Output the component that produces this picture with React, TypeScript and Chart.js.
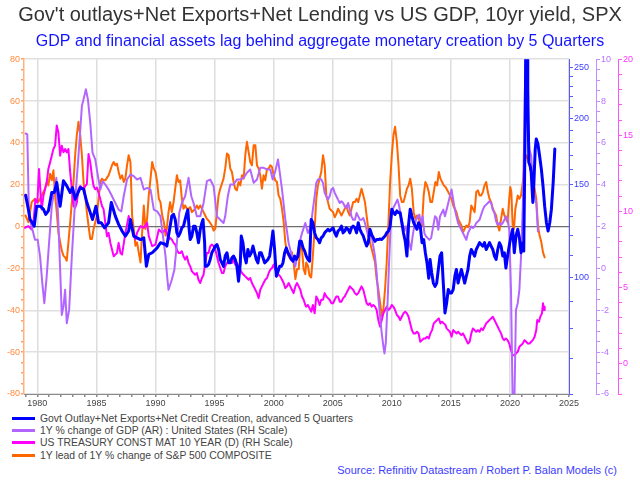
import React, { useEffect, useRef } from "react";
import { Chart, registerables } from "chart.js";

Chart.register(...registerables);

const FONT = '"Liberation Sans", Arial, Helvetica, sans-serif';

const chartTitle = "Gov't outlays+Net Exports+Net Lending vs US GDP, 10yr yield, SPX";
const chartSubtitle = "GDP and financial assets lag behind aggregate monetary creation by 5 Quarters";
const sourceNote = "Source: Refinitiv Datastream / Robert P. Balan Models (c)";

const seriesLabels = [
    "Govt Outlay+Net Exports+Net Credit Creation, advanced 5 Quarters",
    "1Y % change of GDP (AR) : United States (RH Scale)",
    "US TREASURY CONST MAT 10 YEAR (D) (RH Scale)",
    "1Y lead of 1Y % change of S&P 500 COMPOSITE",
];
const seriesColors = ["#0000ff", "#b266ff", "#ff00ff", "#ff6600"];
const seriesWidths = [3, 2, 2, 2];

// [decimal year, value]
const govtSeries: [number, number][] = [
    [1979.01, 142.9], [1979.24, 134.5], [1979.38, 128.6], [1979.57, 126.8], [1979.74, 124.9], [1979.94, 136.3],
    [1980.23, 136.3], [1980.51, 134.5], [1980.71, 131.5], [1980.93, 133.5], [1981.22, 144.7], [1981.44, 144.7],
    [1981.64, 151.1], [1981.93, 136.3], [1982.21, 152.3], [1982.49, 148.9], [1982.78, 144.7], [1982.97, 147.8],
    [1983.2, 140.5], [1983.63, 147.8], [1983.91, 146.8], [1984.19, 138.5], [1984.48, 132.5], [1984.67, 128.6],
    [1984.96, 136.3], [1985.18, 126.8], [1985.41, 126.8], [1985.69, 124.0], [1986.03, 126.8], [1986.26, 138.5],
    [1986.6, 130.5], [1986.88, 125.9], [1987.17, 122.3], [1987.45, 119.6], [1987.73, 122.3], [1987.88, 128.6],
    [1988.16, 119.6], [1988.44, 118.7], [1988.73, 117.8], [1989.01, 118.7], [1989.23, 104.8], [1989.43, 110.4],
    [1989.72, 111.2], [1990.14, 113.6], [1990.42, 116.2], [1990.85, 115.3], [1990.96, 114.5], [1991.1, 119.6],
    [1991.24, 124.9], [1991.38, 130.5], [1991.53, 131.5], [1991.67, 128.6], [1991.81, 121.3], [1991.95, 119.6],
    [1992.09, 121.3], [1992.23, 124.0], [1992.37, 124.9], [1992.51, 128.6], [1992.66, 132.5], [1992.74, 134.1],
    [1992.85, 123.2], [1992.94, 117.8], [1993.08, 119.6], [1993.22, 124.9], [1993.36, 124.9], [1993.5, 121.3],
    [1993.64, 116.2], [1993.79, 123.2], [1993.93, 126.8], [1994.02, 128.6], [1994.16, 116.2], [1994.21, 104.8],
    [1994.35, 104.8], [1994.49, 105.6], [1994.63, 108.0], [1994.77, 111.2], [1994.92, 112.8], [1995.06, 114.5],
    [1995.2, 115.3], [1995.34, 112.8], [1995.48, 108.0], [1995.62, 106.4], [1995.76, 104.8], [1995.9, 109.6],
    [1996.05, 111.2], [1996.19, 106.4], [1996.33, 106.4], [1996.47, 108.8], [1996.61, 109.6], [1996.75, 108.0],
    [1996.89, 104.8], [1997.03, 98.2], [1997.18, 106.4], [1997.26, 119.6], [1997.4, 116.2], [1997.54, 109.6],
    [1997.68, 106.4], [1997.82, 112.8], [1997.96, 109.6], [1998.11, 111.2], [1998.25, 114.5], [1998.39, 111.2],
    [1998.53, 108.0], [1998.67, 106.4], [1998.81, 111.2], [1998.95, 111.2], [1999.1, 108.8], [1999.24, 106.4],
    [1999.38, 107.2], [1999.52, 108.0], [1999.66, 109.6], [1999.8, 115.3], [1999.94, 122.3], [2000.08, 112.8],
    [2000.23, 100.4], [2000.37, 102.5], [2000.51, 104.8], [2000.65, 104.8], [2000.79, 106.4], [2000.93, 111.2],
    [2001.07, 113.6], [2001.21, 111.2], [2001.36, 109.6], [2001.5, 108.0], [2001.64, 107.2], [2001.78, 109.6],
    [2001.92, 108.0], [2002.06, 109.6], [2002.2, 116.9], [2002.34, 116.9], [2002.49, 113.6], [2002.63, 112.0],
    [2002.76, 109.6], [2002.9, 108.0], [2003.04, 107.2], [2003.18, 128.6], [2003.32, 126.8], [2003.47, 121.3],
    [2003.61, 118.7], [2003.75, 117.8], [2003.89, 116.2], [2004.03, 118.7], [2004.18, 119.6], [2004.32, 121.3],
    [2004.46, 122.3], [2004.6, 123.2], [2004.74, 122.3], [2004.89, 123.2], [2005.03, 124.0], [2005.17, 121.3],
    [2005.31, 119.6], [2005.45, 122.3], [2005.6, 123.2], [2005.74, 124.9], [2005.88, 121.3], [2006.02, 122.3],
    [2006.16, 124.0], [2006.31, 123.2], [2006.45, 121.3], [2006.59, 124.0], [2006.73, 124.9], [2006.88, 124.0],
    [2007.02, 121.3], [2007.16, 126.8], [2007.3, 123.2], [2007.44, 121.3], [2007.59, 119.6], [2007.73, 116.9],
    [2007.87, 114.5], [2008.01, 116.2], [2008.15, 123.2], [2008.3, 120.4], [2008.44, 118.7], [2008.58, 116.9],
    [2008.72, 117.8], [2008.86, 117.8], [2009.01, 118.1], [2009.15, 117.8], [2009.29, 118.7], [2009.43, 119.6],
    [2009.57, 121.3], [2009.72, 122.3], [2009.86, 124.9], [2010.0, 134.5], [2010.14, 132.5], [2010.28, 131.5],
    [2010.43, 133.5], [2010.57, 132.5], [2010.71, 132.5], [2010.85, 126.8], [2010.99, 121.3], [2011.14, 116.9],
    [2011.28, 109.6], [2011.42, 125.9], [2011.56, 134.5], [2011.7, 130.5], [2011.85, 126.8], [2011.99, 124.9],
    [2012.13, 123.2], [2012.27, 126.8], [2012.41, 124.9], [2012.56, 116.2], [2012.7, 117.8], [2012.84, 111.2],
    [2012.98, 106.4], [2013.13, 99.5], [2013.24, 108.0], [2013.38, 101.8], [2013.52, 97.4], [2013.66, 96.0],
    [2013.8, 97.4], [2013.94, 103.4], [2014.08, 109.6], [2014.22, 111.2], [2014.36, 97.4], [2014.5, 85.5],
    [2014.64, 89.2], [2014.78, 94.7], [2014.92, 93.3], [2015.06, 93.3], [2015.2, 94.7], [2015.34, 100.4],
    [2015.47, 103.4], [2015.61, 97.4], [2015.75, 100.4], [2015.89, 103.4], [2016.03, 100.4], [2016.17, 97.4],
    [2016.31, 100.4], [2016.45, 103.4], [2016.59, 109.6], [2016.73, 112.8], [2016.87, 111.2], [2017.01, 109.6],
    [2017.15, 112.8], [2017.29, 114.5], [2017.43, 116.2], [2017.57, 115.3], [2017.71, 114.5], [2017.85, 116.2],
    [2017.99, 112.8], [2018.13, 114.5], [2018.27, 116.2], [2018.41, 114.5], [2018.55, 112.8], [2018.69, 109.6],
    [2018.83, 108.0], [2018.97, 112.8], [2019.11, 116.2], [2019.25, 114.5], [2019.39, 109.6], [2019.53, 111.2],
    [2019.66, 104.0], [2019.8, 109.6], [2019.94, 114.5], [2020.09, 119.6], [2020.23, 123.2], [2020.37, 111.2],
    [2020.51, 119.6], [2020.66, 123.2], [2020.8, 118.7], [2020.94, 111.2], [2021.09, 116.2], [2021.17, 112.0],
    [2021.23, 146.8], [2021.29, 196.6], [2021.37, 320], [2021.45, 300], [2021.51, 227.6], [2021.6, 164.9],
    [2021.71, 162.6], [2021.8, 157.9], [2021.94, 138.5], [2022.03, 151.1], [2022.14, 174.9], [2022.23, 182.8],
    [2022.37, 178.8], [2022.51, 169.9], [2022.66, 160.2], [2022.8, 148.9], [2022.94, 136.3], [2023.09, 126.8],
    [2023.23, 122.3], [2023.37, 126.8], [2023.51, 134.5], [2023.66, 151.1], [2023.8, 174.9],
];

const gdpSeries: [number, number][] = [
    [1979.01, 6.45], [1979.15, 6.41], [1979.29, 2.49], [1979.52, 2.01], [1979.8, 1.37], [1980.03, 1.37],
    [1980.23, 0.58], [1980.42, -0.7], [1980.59, -1.66], [1980.79, -0.38], [1980.99, 1.21], [1981.22, 2.97],
    [1981.44, 3.77], [1981.61, 4.33], [1981.78, 2.17], [1981.93, -0.06], [1982.07, -2.22], [1982.21, -1.82],
    [1982.35, -1.02], [1982.49, -2.62], [1982.69, -1.98], [1982.92, 0.58], [1983.2, 3.29], [1983.48, 5.37],
    [1983.77, 7.76], [1983.91, 8.08], [1984.11, 8.56], [1984.28, 8.08], [1984.48, 6.96], [1984.67, 5.53],
    [1984.9, 5.21], [1985.13, 4.41], [1985.33, 3.77], [1985.52, 4.17], [1985.75, 4.01], [1986.03, 3.77],
    [1986.32, 3.45], [1986.6, 3.13], [1986.88, 2.81], [1987.11, 2.73], [1987.31, 3.45], [1987.59, 4.25],
    [1987.88, 4.49], [1988.16, 4.41], [1988.44, 4.25], [1988.73, 4.33], [1989.01, 3.77], [1989.29, 3.85],
    [1989.58, 3.77], [1989.86, 2.81], [1990.14, 2.73], [1990.42, 2.49], [1990.71, 1.21], [1990.85, 0.58],
    [1990.96, -0.22], [1991.1, -1.02], [1991.38, -0.54], [1991.6, -0.06], [1991.81, 1.21], [1992.01, 2.65],
    [1992.23, 3.13], [1992.51, 3.45], [1992.8, 4.33], [1993.03, 3.45], [1993.22, 3.13], [1993.5, 2.49],
    [1993.79, 2.49], [1994.07, 3.13], [1994.35, 4.17], [1994.63, 4.25], [1994.92, 3.93], [1995.2, 2.49],
    [1995.48, 2.33], [1995.76, 2.17], [1995.9, 2.49], [1996.12, 3.45], [1996.33, 4.01], [1996.61, 4.01],
    [1996.89, 4.25], [1997.18, 4.25], [1997.46, 4.33], [1997.74, 4.57], [1998.02, 4.73], [1998.31, 4.09],
    [1998.59, 4.25], [1998.87, 4.81], [1999.15, 4.81], [1999.44, 4.73], [1999.72, 4.73], [1999.92, 4.25],
    [2000.14, 4.65], [2000.37, 5.21], [2000.56, 4.41], [2000.71, 3.77], [2000.99, 2.33], [2001.27, 1.21],
    [2001.55, 0.58], [2001.84, 0.1], [2001.98, 0.58], [2002.18, 1.21], [2002.4, 1.69], [2002.68, 2.17],
    [2002.9, 1.69], [2003.04, 1.85], [2003.18, 2.17], [2003.32, 2.81], [2003.47, 3.45], [2003.61, 4.09],
    [2003.75, 4.25], [2003.89, 4.28], [2004.03, 4.25], [2004.18, 4.09], [2004.32, 3.61], [2004.46, 3.45],
    [2004.6, 3.29], [2004.74, 3.45], [2004.89, 3.77], [2005.03, 3.85], [2005.17, 3.61], [2005.31, 3.45],
    [2005.45, 3.29], [2005.6, 3.13], [2005.74, 3.21], [2005.88, 3.13], [2006.02, 2.97], [2006.16, 2.89],
    [2006.31, 3.13], [2006.45, 2.81], [2006.59, 2.49], [2006.73, 2.33], [2006.88, 2.33], [2007.02, 2.65],
    [2007.16, 2.49], [2007.3, 2.33], [2007.44, 2.33], [2007.59, 2.41], [2007.73, 2.17], [2007.87, 1.85],
    [2008.01, 1.53], [2008.15, 1.85], [2008.3, 1.53], [2008.44, 1.05], [2008.58, 0.58], [2008.72, -0.22],
    [2008.86, -1.34], [2009.01, -2.3], [2009.15, -3.1], [2009.29, -3.74], [2009.38, -4.06], [2009.49, -3.58],
    [2009.63, -1.82], [2009.77, 0.26], [2009.91, 2.17], [2010.06, 2.81], [2010.2, 2.97], [2010.34, 3.13],
    [2010.48, 3.29], [2010.63, 2.97], [2010.77, 2.49], [2010.91, 2.17], [2011.05, 1.85], [2011.19, 2.01],
    [2011.33, 1.53], [2011.48, 1.21], [2011.62, 0.89], [2011.76, 1.53], [2011.9, 2.01], [2012.05, 2.33],
    [2012.19, 2.49], [2012.33, 2.57], [2012.47, 2.17], [2012.61, 2.49], [2012.76, 1.69], [2012.9, 1.53],
    [2013.04, 1.45], [2013.18, 1.37], [2013.33, 1.45], [2013.5, 2.0], [2013.66, 2.5], [2013.8, 2.4],
    [2013.94, 1.85], [2014.08, 2.49], [2014.22, 2.65], [2014.36, 2.81], [2014.5, 2.49], [2014.64, 2.81],
    [2014.78, 3.13], [2014.92, 3.45], [2015.06, 3.77], [2015.2, 3.29], [2015.34, 2.81], [2015.47, 2.49],
    [2015.61, 2.17], [2015.75, 2.01], [2015.89, 1.85], [2016.03, 1.69], [2016.17, 1.53], [2016.31, 1.37],
    [2016.45, 1.69], [2016.59, 1.85], [2016.73, 2.01], [2016.87, 1.93], [2017.01, 2.01], [2017.15, 2.17],
    [2017.29, 2.25], [2017.43, 2.33], [2017.57, 2.57], [2017.71, 2.81], [2017.85, 2.97], [2017.99, 3.05],
    [2018.13, 3.13], [2018.27, 3.21], [2018.41, 3.13], [2018.55, 2.81], [2018.69, 2.65], [2018.83, 2.25],
    [2018.97, 2.09], [2019.11, 2.17], [2019.25, 2.09], [2019.39, 2.17], [2019.53, 2.33], [2019.66, 2.49],
    [2019.8, 2.33], [2019.94, 1.85], [2020.09, -1.02], [2020.3, -9.0], [2020.51, -1.98], [2020.66, -1.66],
    [2020.8, -1.02], [2020.94, 0.58], [2021.09, 2.97], [2021.23, 6.96], [2021.37, 12.2], [2021.51, 6.96],
    [2021.66, 5.69], [2021.8, 5.37], [2021.94, 4.09], [2022.09, 3.45], [2022.23, 3.13], [2022.37, 1.77],
];

const ust10ySeries: [number, number][] = [
    [1978.95, 8.92], [1979.24, 9.03], [1979.52, 8.81], [1979.66, 9.14], [1979.83, 10.79], [1980.0, 10.57],
    [1980.14, 12.78], [1980.25, 11.45], [1980.37, 10.13], [1980.51, 11.01], [1980.65, 11.45], [1980.79, 11.89],
    [1980.93, 12.78], [1981.08, 13.22], [1981.22, 13.66], [1981.36, 14.1], [1981.5, 14.32], [1981.64, 15.64],
    [1981.78, 15.2], [1981.93, 13.66], [1982.07, 14.32], [1982.21, 13.88], [1982.35, 14.1], [1982.49, 13.88],
    [1982.63, 14.1], [1982.78, 12.56], [1982.92, 11.45], [1983.06, 10.35], [1983.2, 10.24], [1983.34, 10.57],
    [1983.48, 11.45], [1983.63, 11.67], [1983.77, 11.56], [1983.91, 11.45], [1984.05, 11.67], [1984.19, 11.78],
    [1984.33, 13.77], [1984.48, 13.22], [1984.62, 12.33], [1984.76, 11.67], [1984.9, 11.45], [1985.04, 11.56],
    [1985.18, 11.23], [1985.33, 10.79], [1985.47, 10.35], [1985.61, 10.13], [1985.75, 9.25], [1985.89, 8.37],
    [1986.03, 8.59], [1986.18, 7.93], [1986.32, 7.49], [1986.46, 7.05], [1986.6, 7.16], [1986.74, 7.27],
    [1986.88, 7.93], [1987.03, 7.27], [1987.17, 7.16], [1987.45, 8.59], [1987.73, 9.69], [1987.88, 9.25],
    [1988.02, 8.81], [1988.3, 8.15], [1988.44, 8.59], [1988.58, 8.81], [1988.73, 9.03], [1989.01, 8.92],
    [1989.29, 9.25], [1989.43, 8.37], [1989.72, 7.71], [1990.0, 7.82], [1990.28, 8.81], [1990.57, 8.59],
    [1990.85, 8.81], [1990.96, 8.59], [1991.1, 8.15], [1991.24, 8.26], [1991.38, 8.15], [1991.53, 7.93],
    [1991.67, 7.82], [1991.81, 7.49], [1991.95, 7.27], [1992.09, 7.27], [1992.23, 7.38], [1992.37, 7.05],
    [1992.51, 6.83], [1992.66, 7.05], [1992.8, 6.61], [1992.94, 6.39], [1993.08, 6.06], [1993.22, 5.95],
    [1993.36, 5.84], [1993.5, 5.95], [1993.64, 5.51], [1993.79, 5.29], [1993.93, 5.62], [1994.07, 5.84],
    [1994.21, 6.61], [1994.35, 7.27], [1994.49, 7.27], [1994.63, 7.71], [1994.77, 7.82], [1994.92, 7.71],
    [1995.06, 7.49], [1995.2, 7.05], [1995.34, 6.61], [1995.48, 6.28], [1995.62, 5.95], [1995.76, 5.95],
    [1995.9, 6.39], [1996.05, 6.61], [1996.19, 6.72], [1996.33, 6.72], [1996.47, 6.61], [1996.61, 6.83],
    [1996.75, 6.5], [1996.89, 6.61], [1997.03, 6.39], [1997.18, 6.17], [1997.32, 5.95], [1997.46, 5.84],
    [1997.6, 5.73], [1997.74, 5.62], [1997.88, 5.51], [1998.02, 5.62], [1998.16, 5.29], [1998.31, 5.07],
    [1998.45, 4.85], [1998.59, 4.63], [1998.73, 4.3], [1998.87, 4.85], [1999.01, 5.07], [1999.15, 5.29],
    [1999.29, 5.51], [1999.44, 5.62], [1999.58, 5.95], [1999.72, 6.17], [1999.86, 6.28], [2000.0, 6.5],
    [2000.14, 6.17], [2000.28, 5.95], [2000.42, 5.84], [2000.56, 5.73], [2000.71, 5.51], [2000.85, 5.29],
    [2000.99, 4.96], [2001.13, 5.07], [2001.27, 5.29], [2001.41, 5.07], [2001.55, 4.85], [2001.69, 4.63],
    [2001.84, 5.07], [2001.98, 5.29], [2002.12, 5.07], [2002.26, 4.85], [2002.4, 4.41], [2002.54, 4.19],
    [2002.68, 3.85], [2002.76, 3.74], [2002.9, 3.85], [2003.04, 3.63], [2003.18, 3.41], [2003.32, 3.85],
    [2003.47, 3.3], [2003.61, 4.41], [2003.75, 4.19], [2003.89, 3.85], [2004.03, 4.19], [2004.18, 4.19],
    [2004.32, 4.63], [2004.46, 4.41], [2004.6, 4.3], [2004.74, 4.19], [2004.89, 3.96], [2005.03, 3.96],
    [2005.17, 4.19], [2005.31, 4.41], [2005.45, 4.41], [2005.6, 4.07], [2005.74, 4.07], [2005.88, 4.3],
    [2006.02, 4.41], [2006.16, 4.63], [2006.31, 4.85], [2006.45, 5.07], [2006.59, 4.96], [2006.73, 4.85],
    [2006.88, 4.63], [2007.02, 4.52], [2007.16, 4.63], [2007.3, 4.85], [2007.44, 5.07], [2007.59, 4.85],
    [2007.73, 4.41], [2007.87, 3.96], [2008.01, 3.85], [2008.15, 3.96], [2008.3, 3.74], [2008.44, 3.85],
    [2008.58, 3.74], [2008.72, 3.52], [2008.86, 2.86], [2009.01, 2.42], [2009.15, 2.86], [2009.29, 3.3],
    [2009.43, 3.52], [2009.57, 3.74], [2009.72, 3.52], [2009.86, 3.63], [2010.0, 3.85], [2010.14, 3.74],
    [2010.28, 3.52], [2010.43, 3.19], [2010.57, 3.08], [2010.71, 2.86], [2010.85, 3.08], [2010.99, 3.3],
    [2011.14, 3.41], [2011.28, 3.3], [2011.42, 3.08], [2011.56, 2.64], [2011.7, 2.2], [2011.85, 1.98],
    [2011.99, 1.98], [2012.13, 2.09], [2012.27, 1.98], [2012.41, 1.43], [2012.56, 1.54], [2012.7, 1.65],
    [2012.84, 1.65], [2012.98, 1.76], [2013.13, 1.65], [2013.27, 1.98], [2013.41, 2.2], [2013.55, 2.64],
    [2013.69, 2.75], [2013.84, 2.86], [2013.98, 2.97], [2014.12, 2.64], [2014.26, 2.75], [2014.4, 2.64],
    [2014.55, 2.53], [2014.64, 2.31], [2014.78, 2.2], [2014.92, 2.09], [2015.06, 1.76], [2015.2, 2.2],
    [2015.34, 2.09], [2015.47, 1.98], [2015.61, 2.09], [2015.75, 1.98], [2015.89, 1.87], [2016.03, 1.98],
    [2016.17, 1.76], [2016.31, 1.54], [2016.45, 1.32], [2016.59, 1.43], [2016.73, 1.98], [2016.87, 2.31],
    [2017.01, 2.2], [2017.15, 2.09], [2017.29, 2.2], [2017.43, 2.09], [2017.57, 2.31], [2017.71, 2.2],
    [2017.85, 2.42], [2017.99, 2.64], [2018.13, 2.75], [2018.27, 2.86], [2018.41, 2.97], [2018.55, 3.08],
    [2018.69, 2.86], [2018.83, 2.64], [2018.97, 2.42], [2019.11, 2.2], [2019.25, 1.98], [2019.39, 1.65],
    [2019.51, 1.54], [2019.66, 1.65], [2019.8, 1.54], [2019.94, 1.32], [2020.09, 0.88], [2020.23, 0.55],
    [2020.37, 0.55], [2020.51, 0.66], [2020.66, 0.77], [2020.8, 1.1], [2020.94, 1.21], [2021.09, 1.32],
    [2021.23, 1.54], [2021.37, 1.43], [2021.51, 1.32], [2021.66, 1.32], [2021.8, 1.43], [2021.94, 1.54],
    [2022.09, 1.76], [2022.23, 2.2], [2022.31, 2.86], [2022.46, 2.75], [2022.57, 3.08], [2022.71, 3.3],
    [2022.8, 3.96], [2022.89, 3.52], [2022.94, 3.74],
];

const spxSeries: [number, number][] = [
    [1979.0, 5.3], [1979.24, 2.1], [1979.38, 6.9], [1979.52, 11.7], [1979.8, 13.3], [1980.08, 11.7],
    [1980.37, 14.9], [1980.65, 18.1], [1980.79, 21.3], [1980.93, 19.7], [1981.08, 25.3], [1981.22, 22.1],
    [1981.36, 26.9], [1981.5, 14.9], [1981.64, 6.9], [1981.78, -2.7], [1981.93, -7.5], [1982.07, -11.5],
    [1982.21, -13.9], [1982.35, -14.7], [1982.49, -16.3], [1982.63, -7.5], [1982.78, 2.1], [1982.92, 11.7],
    [1983.06, 21.3], [1983.2, 34.1], [1983.34, 43.7], [1983.48, 50.1], [1983.63, 43.7], [1983.77, 34.1],
    [1983.91, 21.3], [1984.05, 14.9], [1984.19, 6.9], [1984.33, 0.5], [1984.48, -5.9], [1984.62, -5.9],
    [1984.76, -1.1], [1984.9, 2.1], [1985.04, 5.3], [1985.18, 13.3], [1985.33, 21.3], [1985.47, 22.9],
    [1985.61, 22.1], [1985.75, 22.1], [1986.03, 24.5], [1986.32, 29.3], [1986.46, 30.9], [1986.6, 29.3],
    [1986.74, 30.1], [1986.88, 26.1], [1987.03, 22.9], [1987.17, 24.5], [1987.31, 21.3], [1987.45, 22.9],
    [1987.59, 29.3], [1987.73, 34.1], [1987.88, 30.9], [1988.02, 5.3], [1988.16, -1.1], [1988.3, -9.1],
    [1988.44, -7.5], [1988.58, -12.3], [1988.73, -17.1], [1988.87, -2.7], [1989.01, 10.1], [1989.15, -1.1],
    [1989.29, 3.7], [1989.43, 14.9], [1989.58, 22.9], [1989.72, 30.9], [1989.86, 27.7], [1990.0, 26.1],
    [1990.14, 21.3], [1990.28, 13.3], [1990.42, 11.7], [1990.57, 5.3], [1990.71, 2.1], [1990.85, -4.3],
    [1990.96, -1.1], [1991.1, 6.9], [1991.24, 11.7], [1991.38, 6.9], [1991.53, 11.7], [1991.67, 18.1],
    [1991.81, 24.5], [1991.95, 21.3], [1992.09, 22.1], [1992.23, 13.3], [1992.37, 8.5], [1992.51, 10.1],
    [1992.66, 8.5], [1992.8, 8.5], [1992.94, 9.3], [1993.08, 6.9], [1993.22, 7.7], [1993.36, 8.5],
    [1993.5, 10.1], [1993.64, 8.5], [1993.79, 10.1], [1993.93, 8.5], [1994.07, 6.9], [1994.21, 5.3],
    [1994.35, 3.7], [1994.49, 2.9], [1994.77, 0.5], [1994.92, -1.9], [1995.06, -1.1], [1995.2, 6.9],
    [1995.34, 14.9], [1995.48, 18.1], [1995.62, 20.5], [1995.76, 22.9], [1995.9, 27.7], [1996.05, 34.9],
    [1996.19, 34.1], [1996.33, 27.7], [1996.47, 26.1], [1996.61, 21.3], [1996.75, 18.1], [1996.89, 17.3],
    [1997.03, 21.3], [1997.18, 19.7], [1997.32, 24.5], [1997.46, 22.9], [1997.6, 34.1], [1997.74, 40.5],
    [1997.88, 35.7], [1998.02, 30.9], [1998.16, 29.3], [1998.31, 38.9], [1998.45, 38.9], [1998.59, 29.3],
    [1998.73, 27.7], [1998.87, 24.5], [1999.01, 18.1], [1999.15, 24.5], [1999.29, 22.1], [1999.44, 27.7],
    [1999.58, 27.7], [1999.72, 29.3], [1999.86, 28.5], [2000.0, 24.5], [2000.14, 22.1], [2000.28, 21.3],
    [2000.42, 14.9], [2000.56, 13.3], [2000.71, 8.5], [2000.85, 2.1], [2000.99, -7.5], [2001.13, -12.3],
    [2001.27, -13.9], [2001.41, -15.5], [2001.55, -12.3], [2001.69, -17.1], [2001.84, -25.1], [2001.98, -20.3],
    [2002.12, -20.3], [2002.26, -9.1], [2002.4, -10.7], [2002.54, -20.3], [2002.68, -22.7], [2002.76, -17.1],
    [2002.9, -18.7], [2003.04, -23.5], [2003.18, -24.3], [2003.32, -13.9], [2003.47, -1.1], [2003.61, 13.3],
    [2003.75, 19.7], [2003.89, 22.9], [2004.03, 26.1], [2004.18, 34.1], [2004.32, 29.3], [2004.46, 14.9],
    [2004.6, 11.7], [2004.74, 8.5], [2004.89, 7.7], [2005.03, 6.9], [2005.17, 4.5], [2005.31, 6.1],
    [2005.45, 8.5], [2005.6, 6.9], [2005.74, 5.3], [2005.88, 6.9], [2006.02, 8.5], [2006.16, 10.1],
    [2006.31, 6.9], [2006.45, 5.3], [2006.59, 8.5], [2006.73, 11.7], [2006.88, 11.7], [2007.02, 13.3],
    [2007.16, 11.7], [2007.3, 14.9], [2007.44, 18.1], [2007.59, 14.9], [2007.73, 11.7], [2007.87, 5.3],
    [2008.01, -1.1], [2008.15, -7.5], [2008.3, -10.7], [2008.44, -13.9], [2008.58, -17.1], [2008.72, -25.1],
    [2008.86, -29.9], [2009.01, -36.3], [2009.15, -42.7], [2009.29, -39.5], [2009.43, -29.9], [2009.57, -17.1],
    [2009.72, 2.1], [2009.86, 21.3], [2010.0, 34.1], [2010.14, 43.7], [2010.28, 47.7], [2010.43, 40.5],
    [2010.57, 29.3], [2010.71, 14.9], [2010.85, 11.7], [2010.99, 11.7], [2011.14, 14.9], [2011.28, 18.1],
    [2011.42, 19.7], [2011.56, 22.9], [2011.7, 18.1], [2011.85, 6.9], [2011.99, 3.7], [2012.13, 5.3],
    [2012.27, 3.7], [2012.41, 2.1], [2012.56, 0.5], [2012.7, 14.9], [2012.84, 21.3], [2012.98, 19.7],
    [2013.13, 16.5], [2013.27, 11.7], [2013.41, 11.7], [2013.55, 16.5], [2013.69, 21.3], [2013.84, 19.7],
    [2013.98, 26.1], [2014.12, 22.9], [2014.26, 21.3], [2014.4, 19.7], [2014.55, 18.9], [2014.78, 16.5],
    [2014.92, 14.9], [2015.06, 13.3], [2015.2, 10.1], [2015.34, 8.5], [2015.47, 6.9], [2015.61, 3.7],
    [2015.75, 2.1], [2015.89, 0.5], [2016.03, -2.7], [2016.17, -1.1], [2016.31, 0.5], [2016.45, -0.3],
    [2016.59, 2.1], [2016.73, 10.1], [2016.87, 8.5], [2017.01, 6.9], [2017.15, 16.5], [2017.29, 17.3],
    [2017.43, 14.9], [2017.57, 14.9], [2017.71, 16.5], [2017.85, 19.7], [2017.99, 21.3], [2018.13, 16.5],
    [2018.27, 13.3], [2018.41, 11.7], [2018.55, 8.5], [2018.69, 6.9], [2018.83, 5.3], [2018.97, 0.5],
    [2019.11, -1.9], [2019.25, 3.7], [2019.39, 8.5], [2019.53, 5.3], [2019.66, 3.7], [2019.8, 2.1],
    [2019.94, 13.3], [2020.03, 18.9], [2020.12, 16.5], [2020.23, 0.5], [2020.34, -1.1], [2020.46, 8.5],
    [2020.57, 11.7], [2020.66, 14.9], [2020.8, 13.3], [2020.94, 14.9], [2021.09, 21.3], [2021.23, 29.3],
    [2021.37, 34.1], [2021.51, 32.5], [2021.66, 29.3], [2021.8, 26.1], [2021.94, 21.3], [2022.09, 18.1],
    [2022.23, 13.3], [2022.37, 0.5], [2022.51, -4.3], [2022.66, -7.5], [2022.8, -12.3], [2022.94, -14.7],
];

// axis ranges and ticks
const xRange = [1978.87, 2025];
const xLabelYears = [1980, 1985, 1990, 1995, 2000, 2005, 2010, 2015, 2020, 2025];
const xMinorYears = Array.from({ length: 47 }, (_, i) => 1979 + i);

const leftRange = [-80, 80];
const leftLabels = [-80, -60, -40, -20, 0, 20, 40, 60, 80];
const leftMinor = Array.from({ length: 33 }, (_, i) => -80 + i * 5);

const govtRange = [60, 259];
const govtLabels = [100, 150, 200, 250];
const govtMinor = [60, 70, 80, 90, 100, 110, 120, 130, 140, 150, 160, 170, 180, 190, 200, 210, 220, 230, 240, 250];

const gdpRange = [-6, 10];
const gdpLabels = [-6, -4, -2, 0, 2, 4, 6, 8, 10];
const gdpMinor = Array.from({ length: 33 }, (_, i) => -6 + i * 0.5);

const ustRange = [-2, 20];
const ustLabels = [0, 5, 10, 15, 20];
const ustMinor = Array.from({ length: 23 }, (_, i) => -2 + i);

const toPoints = (s: [number, number][]) => s.map(([x, y]) => ({ x, y }));
const setTicks = (values: number[]) => (scale: any) => {
    scale.ticks = values.map((v) => ({ value: v }));
};
const setWidth = (w: number) => (scale: any) => {
    scale.width = w;
};

const rightAxis = (
    color: string,
    labelColor: string,
    range: number[],
    minor: number[],
    labels: number[],
    width: number,
    extra: any = {}
) => ({
    position: "right",
    min: range[0],
    max: range[1],
    afterBuildTicks: setTicks(minor),
    afterFit: setWidth(width),
    border: { display: true, color, width: 1 },
    grid: { drawOnChartArea: false, color, tickLength: 4, lineWidth: 1 },
    ticks: {
        autoSkip: false,
        padding: 1,
        color: labelColor,
        font: { family: FONT, size: 9 },
        callback: (v: any) => (labels.includes(Number(v)) ? String(v) : ""),
    },
    ...extra,
});

const MonetaryChart: React.FC = () => {
    const canvasRef = useRef<HTMLCanvasElement | null>(null);
    const chartRef = useRef<Chart | null>(null);

    useEffect(() => {
        if (chartRef.current) {
            chartRef.current.destroy();
        }
        if (!canvasRef.current) return;

        const seriesData = [govtSeries, gdpSeries, ust10ySeries, spxSeries];
        const axisIds = ["yGovt", "yGdp", "yUst", "y"];

        chartRef.current = new Chart(canvasRef.current, {
            type: "line",
            data: {
                datasets: seriesData.map((s, i) => ({
                    label: seriesLabels[i],
                    data: toPoints(s),
                    borderColor: seriesColors[i],
                    backgroundColor: seriesColors[i],
                    borderWidth: seriesWidths[i],
                    borderJoinStyle: "round",
                    borderCapStyle: "round",
                    pointRadius: 0,
                    tension: 0,
                    fill: false,
                    yAxisID: axisIds[i],
                })),
            },
            options: {
                responsive: true,
                maintainAspectRatio: false,
                animation: false,
                layout: { padding: 0 },
                plugins: {
                    legend: { display: false },
                    tooltip: { enabled: false },
                    title: {
                        display: true,
                        text: chartTitle,
                        color: "#333333",
                        font: { family: FONT, size: 20, weight: "normal" },
                        padding: { top: 3, bottom: 3 },
                    },
                    subtitle: {
                        display: true,
                        text: chartSubtitle,
                        color: "#1414ff",
                        font: { family: FONT, size: 16, weight: "normal" },
                        padding: { top: 2, bottom: 8 },
                    },
                },
                scales: {
                    x: {
                        type: "linear",
                        min: xRange[0],
                        max: xRange[1],
                        afterBuildTicks: setTicks(xMinorYears),
                        afterFit: (scale: any) => {
                            scale.height = 16;
                        },
                        border: { display: true, color: "#8a8a8a", width: 1 },
                        grid: {
                            color: (ctx: any) =>
                                ctx.tick && xLabelYears.includes(ctx.tick.value) ? "#dddddd" : "rgba(0,0,0,0)",
                            lineWidth: 1.5,
                            tickColor: "#8a8a8a",
                            tickLength: 3,
                        },
                        ticks: {
                            autoSkip: false,
                            maxRotation: 0,
                            padding: 1,
                            color: "#444444",
                            font: { family: FONT, size: 9 },
                            callback: (v: any) => (xLabelYears.includes(Number(v)) ? String(v) : ""),
                        },
                    },
                    y: {
                        position: "left",
                        min: leftRange[0],
                        max: leftRange[1],
                        afterBuildTicks: setTicks(leftMinor),
                        afterFit: setWidth(24),
                        border: { display: true, color: "#ffb27f", width: 1.5 },
                        grid: {
                            color: (ctx: any) => {
                                const v = ctx.tick ? ctx.tick.value : NaN;
                                if (v === 0) return "#6e6e6e";
                                return leftLabels.includes(v) ? "#e0e0e0" : "rgba(0,0,0,0)";
                            },
                            lineWidth: (ctx: any) => (ctx.tick && ctx.tick.value === 0 ? 1.2 : 1.5),
                            tickColor: "#ffa060",
                            tickLength: 3,
                        },
                        ticks: {
                            autoSkip: false,
                            padding: 1,
                            color: "#ff8a3d",
                            font: { family: FONT, size: 9 },
                            callback: (v: any) => (leftLabels.includes(Number(v)) ? String(v) : ""),
                        },
                    },
                    yGovt: rightAxis("#5a5aff", "#3c3cff", govtRange, govtMinor, govtLabels, 27, {
                        type: "logarithmic",
                        bounds: "data",
                    }),
                    yGdp: rightAxis("#c48cff", "#b673ff", gdpRange, gdpMinor, gdpLabels, 22),
                    yUst: rightAxis("#ff55ff", "#ff33ff", ustRange, ustMinor, ustLabels, 22),
                } as any,
            },
        } as any);

        return () => {
            if (chartRef.current) {
                chartRef.current.destroy();
                chartRef.current = null;
            }
        };
    }, []);

    return (
        <div style={{ position: "absolute", left: 0, top: 0, width: 640, height: 410 }}>
            <canvas ref={canvasRef} />
        </div>
    );
};

const App: React.FC = () => {
    return (
        <div
            style={{
                position: "fixed",
                left: 0,
                top: 0,
                width: 640,
                height: 480,
                background: "#ffffff",
                fontFamily: FONT,
                overflow: "hidden",
            }}
        >
            <MonetaryChart />
            <div style={{ position: "absolute", left: 12, top: 412.5 }}>
                {seriesLabels.map((label, i) => (
                    <div key={label} style={{ display: "flex", alignItems: "center", height: 12.2 }}>
                        <span
                            style={{
                                display: "inline-block",
                                width: 23,
                                height: 3,
                                background: seriesColors[i],
                                marginRight: 5,
                            }}
                        />
                        <span style={{ fontSize: 10.4, color: "#444444", whiteSpace: "nowrap" }}>{label}</span>
                    </div>
                ))}
            </div>
            <div
                style={{
                    position: "absolute",
                    right: 23,
                    top: 464,
                    fontSize: 11,
                    color: "#3c3cff",
                    whiteSpace: "nowrap",
                }}
            >
                {sourceNote}
            </div>
        </div>
    );
};

export default App;
